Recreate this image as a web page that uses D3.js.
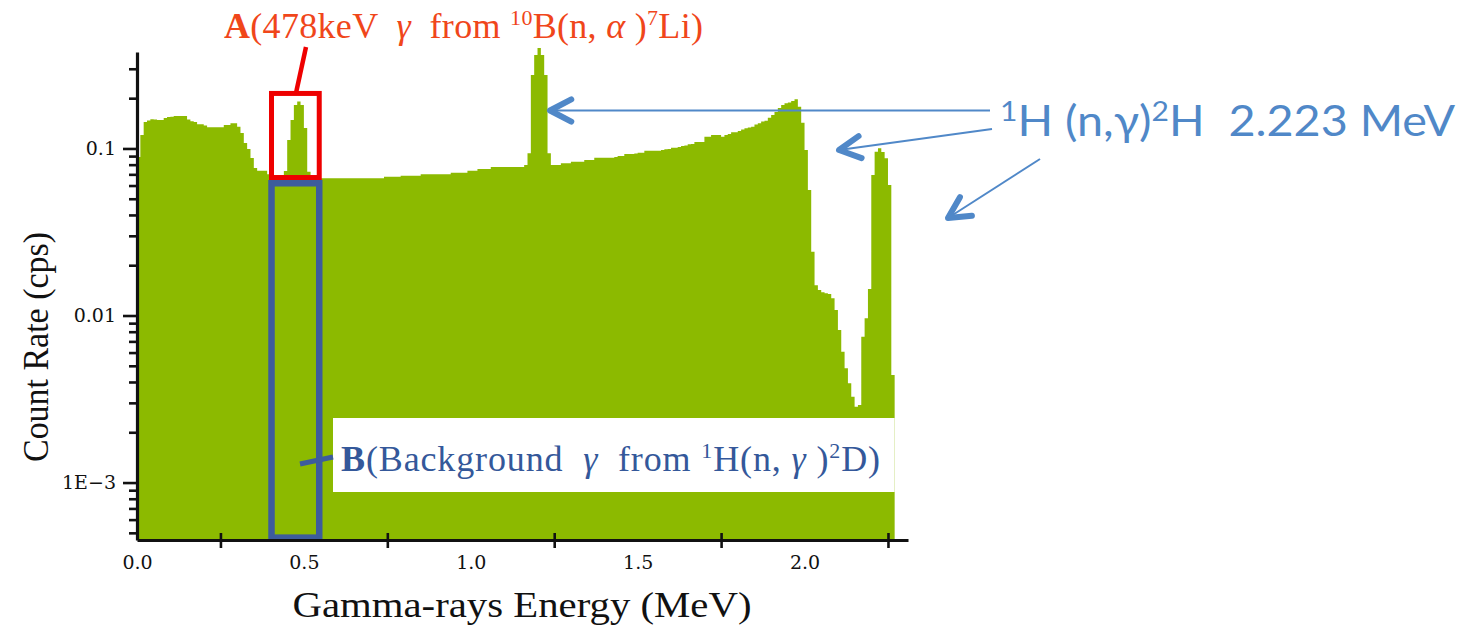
<!DOCTYPE html>
<html>
<head>
<meta charset="utf-8">
<script src="https://cdn.jsdelivr.net/npm/d3@7"></script>
<style>
  html, body { margin: 0; padding: 0; background: #ffffff; }
  svg { display: block; }
  .pre { white-space: pre; }
</style>
</head>
<body>
<svg id="chart" width="1472" height="629"></svg>
<script>
// Gamma-ray spectrum in 10 keV bins, first bin starting at 0 MeV (count rate, cps)
const binWidth = 0.01;

// 0.00 – 0.54 MeV: low-energy continuum and the 478 keV line
const countsLow = [
  0.0889, 0.1204, 0.1441, 0.1471, 0.1496, 0.1492, 0.1482, 0.1482, 0.1523, 0.1544,
  0.1551, 0.1565, 0.1565, 0.1565, 0.1565, 0.1490, 0.1455, 0.1441, 0.1396, 0.1396,
  0.1373, 0.1339, 0.1339, 0.1339, 0.1339, 0.1339, 0.1382, 0.1382, 0.1416, 0.1416,
  0.1350, 0.1239, 0.1079, 0.0993, 0.0877, 0.0764, 0.0736, 0.0736, 0.0736, 0.0701,
  0.0694, 0.0684, 0.0680, 0.0680, 0.0733, 0.1124, 0.1482, 0.1822, 0.1912, 0.1822,
  0.1327, 0.0726, 0.0680, 0.0670, 0.0666
];

// 0.55 – 1.16 MeV: flat continuum
const countsPlateau = [
  0.0663, 0.0663, 0.0663, 0.0663, 0.0663, 0.0663, 0.0663, 0.0663, 0.0663, 0.0663,
  0.0663, 0.0663, 0.0663, 0.0663, 0.0663, 0.0663, 0.0663, 0.0663, 0.0663,
  0.0678, 0.0678, 0.0678, 0.0678, 0.0678,
  0.0687, 0.0687, 0.0687, 0.0687, 0.0687, 0.0687,
  0.0701, 0.0701, 0.0701, 0.0701, 0.0701, 0.0701, 0.0701, 0.0701, 0.0701,
  0.0716, 0.0716, 0.0716, 0.0716, 0.0716,
  0.0736, 0.0736, 0.0736,
  0.0754, 0.0754, 0.0754, 0.0754,
  0.0775, 0.0775, 0.0775, 0.0775, 0.0775, 0.0775, 0.0775, 0.0775, 0.0775, 0.0775,
  0.0796
];

// 1.17 – 1.23 MeV: double-escape peak of the 2.223 MeV line
const countsEscape = [0.0936, 0.2755, 0.3630, 0.3997, 0.3630, 0.2755, 0.0936];

// 1.24 – 1.99 MeV: Compton continuum up to the edge
const countsCompton = [
  0.0796, 0.0796, 0.0796, 0.0815, 0.0815, 0.0815, 0.0834, 0.0834, 0.0834, 0.0834,
  0.0853, 0.0853, 0.0853, 0.0881, 0.0881, 0.0881, 0.0881, 0.0881, 0.0881, 0.0889,
  0.0902, 0.0902, 0.0927, 0.0927, 0.0927, 0.0934, 0.0944, 0.0944, 0.0970, 0.0970,
  0.0970, 0.0970, 0.0970, 0.0979, 0.0989, 0.0993, 0.1011, 0.1011, 0.1021, 0.1035,
  0.1042, 0.1060, 0.1064, 0.1094, 0.1094, 0.1094, 0.1177, 0.1177, 0.1204, 0.1204,
  0.1204, 0.1177, 0.1204, 0.1221, 0.1250, 0.1250, 0.1273, 0.1299, 0.1321, 0.1336,
  0.1350, 0.1392, 0.1416, 0.1451, 0.1467, 0.1529, 0.1587, 0.1654, 0.1748, 0.1822,
  0.1865, 0.1885, 0.1925, 0.1971, 0.1780, 0.1427
];

// 2.00 – 2.26 MeV: edge fall-off, valley and the 2.223 MeV full-energy peak
const countsPeak = [
  0.0979, 0.0564, 0.0241, 0.0152, 0.0142, 0.0138, 0.01358, 0.01345, 0.01268, 0.01079,
  0.00819, 0.00607, 0.00483, 0.00393, 0.00326, 0.00284, 0.00291, 0.00746, 0.00962, 0.0144,
  0.0694, 0.0957, 0.1003, 0.0952, 0.0874, 0.0605, 0.0044
];

// Axis ticks
const energyDomain = [0, 2.31];
const energyTicks = [0.25, 0.75, 1.25, 1.75, 2.25];
const energyLabels = [0, 0.5, 1.0, 1.5, 2.0];
const rateDomain = [4.53e-4, 0.378];
const rateMajor = [0.1, 0.01, 0.001];
const rateMajorText = ["0.1", "0.01", "1E\u22123"];
const rateMinor = [0.3, 0.2,
  0.09, 0.08, 0.07, 0.06, 0.05, 0.04, 0.03, 0.02,
  0.009, 0.008, 0.007, 0.006, 0.005, 0.004, 0.003, 0.002,
  0.0009, 0.0008, 0.0007, 0.0006, 0.0005];

// Energy windows: A = 478 keV line, B = background under it
const windowA = { e0: 0.403, e1: 0.546, r0: 0.067, r1: 0.2135 };
const windowB = { e0: 0.403, e1: 0.546, r0: 4.68e-4, r1: 0.0619 };

const counts = [].concat(countsLow, countsPlateau, countsEscape, countsCompton, countsPeak);
const bins = counts.map((v, i) => ({ e: i * binWidth, v }));
bins.push({ e: counts.length * binWidth, v: counts[counts.length - 1] });

const svg = d3.select("#chart");
const plot = { left: 137, right: 908, top: 52, bottom: 540 };

const x = d3.scaleLinear().domain(energyDomain).range([plot.left, plot.right]);
const y = d3.scaleLog().domain(rateDomain).range([plot.bottom, plot.top]);

const GREEN = "#8cba00";
const serif = "'Liberation Serif', 'Times New Roman', serif";

// Spectrum as a filled step histogram
const area = d3.area()
  .curve(d3.curveStepAfter)
  .x(d => x(d.e))
  .y0(y(rateDomain[0]))
  .y1(d => y(d.v));

svg.append("path")
  .datum(bins)
  .attr("d", area)
  .attr("fill", GREEN);

// Window boxes
svg.append("rect")
  .attr("x", x(windowA.e0)).attr("y", y(windowA.r1))
  .attr("width", x(windowA.e1) - x(windowA.e0))
  .attr("height", y(windowA.r0) - y(windowA.r1))
  .attr("fill", "none").attr("stroke", "#ee0000").attr("stroke-width", 5);

svg.append("rect")
  .attr("x", x(windowB.e0)).attr("y", y(windowB.r1))
  .attr("width", x(windowB.e1) - x(windowB.e0))
  .attr("height", y(windowB.r0) - y(windowB.r1))
  .attr("fill", "none").attr("stroke", "#3d5c9c").attr("stroke-width", 6.5);

// Axes
const axisColor = "#111111";

const yMajor = svg.append("g")
  .attr("transform", `translate(${plot.left},0)`)
  .call(d3.axisLeft(y).tickValues(rateMajor).tickSize(14).tickSizeOuter(0)
    .tickPadding(7).tickFormat((d, i) => rateMajorText[i]));
const yMinor = svg.append("g")
  .attr("transform", `translate(${plot.left},0)`)
  .call(d3.axisLeft(y).tickValues(rateMinor).tickSize(8).tickSizeOuter(0).tickFormat(""));
yMinor.select(".domain").remove();

const xTicks = svg.append("g")
  .attr("transform", `translate(0,${plot.bottom})`)
  .call(d3.axisBottom(x).tickValues(energyTicks).tickSize(14).tickSizeOuter(0).tickFormat(""));
xTicks.selectAll(".tick line").attr("y1", -7).attr("y2", 8);
const xLabels = svg.append("g")
  .attr("transform", `translate(0,${plot.bottom})`)
  .call(d3.axisBottom(x).tickValues(energyLabels).tickSize(0).tickPadding(16)
    .tickFormat(d3.format(".1f")));
xLabels.select(".domain").remove();

[yMajor, yMinor, xTicks].forEach(g => {
  g.selectAll(".domain").attr("stroke", axisColor).attr("stroke-width", 3.2);
  g.selectAll(".tick line").attr("stroke", axisColor).attr("stroke-width", 2.6);
});
[yMajor, xLabels].forEach(g => {
  g.selectAll(".tick text")
    .attr("font-family", "'DejaVu Serif', serif")
    .attr("font-size", 19)
    .attr("fill", "#111111");
});

// Axis titles
svg.append("text")
  .attr("x", 522).attr("y", 617)
  .attr("text-anchor", "middle")
  .attr("font-family", serif).attr("font-size", 36)
  .attr("textLength", 459).attr("lengthAdjust", "spacingAndGlyphs")
  .attr("fill", "#111111")
  .text("Gamma-rays Energy (MeV)");

svg.append("text")
  .attr("transform", "translate(48,347) rotate(-90)")
  .attr("text-anchor", "middle")
  .attr("font-family", serif).attr("font-size", 36)
  .attr("textLength", 230).attr("lengthAdjust", "spacingAndGlyphs")
  .attr("fill", "#111111")
  .text("Count Rate (cps)");

// Label for window B on a white panel
svg.append("rect")
  .attr("x", 333).attr("y", 418)
  .attr("width", x(counts.length * binWidth) - 333).attr("height", 74)
  .attr("fill", "#ffffff");

const BLUE_DARK = "#34589a";
const labelB = svg.append("text")
  .attr("class", "pre")
  .attr("x", 341).attr("y", 471)
  .attr("font-family", serif).attr("font-size", 36)
  .attr("textLength", 539)
  .attr("fill", BLUE_DARK);
labelB.append("tspan").attr("font-weight", "bold").text("B");
labelB.append("tspan").text("(Background  ");
labelB.append("tspan").attr("font-style", "italic").text("\u03b3");
labelB.append("tspan").text("  from ");
labelB.append("tspan").attr("font-size", 22).attr("dy", -13).text("1");
labelB.append("tspan").attr("dy", 13).text("H(n, ");
labelB.append("tspan").attr("font-style", "italic").text("\u03b3");
labelB.append("tspan").text(" )");
labelB.append("tspan").attr("font-size", 22).attr("dy", -13).text("2");
labelB.append("tspan").attr("dy", 13).text("D)");

svg.append("line")
  .attr("x1", 300).attr("y1", 464).attr("x2", 333).attr("y2", 457)
  .attr("stroke", "#3d5c9c").attr("stroke-width", 5);

// Label for window A
const RED_TEXT = "#f0461a";
const labelA = svg.append("text")
  .attr("class", "pre")
  .attr("x", 224).attr("y", 38)
  .attr("font-family", serif).attr("font-size", 36)
  .attr("textLength", 479)
  .attr("fill", RED_TEXT);
labelA.append("tspan").attr("font-weight", "bold").text("A");
labelA.append("tspan").text("(478keV  ");
labelA.append("tspan").attr("font-style", "italic").text("\u03b3");
labelA.append("tspan").text("  from ");
labelA.append("tspan").attr("font-size", 22).attr("dy", -13).text("10");
labelA.append("tspan").attr("dy", 13).text("B(n, ");
labelA.append("tspan").attr("font-style", "italic").text("\u03b1");
labelA.append("tspan").text(" )");
labelA.append("tspan").attr("font-size", 22).attr("dy", -13).text("7");
labelA.append("tspan").attr("dy", 13).text("Li)");

svg.append("line")
  .attr("x1", 296).attr("y1", 93).attr("x2", 306).attr("y2", 47)
  .attr("stroke", "#ee0000").attr("stroke-width", 4.5);

// 2.223 MeV annotation with arrows
const BLUE_LIGHT = "#5088c8";
const note = svg.append("text")
  .attr("class", "pre")
  .attr("x", 1000).attr("y", 136)
  .attr("font-family", "Lato, 'Open Sans', sans-serif").attr("font-size", 42)
  .attr("textLength", 455).attr("lengthAdjust", "spacingAndGlyphs")
  .attr("fill", BLUE_LIGHT);
note.append("tspan").attr("font-size", 27).attr("dy", -15).text("1");
note.append("tspan").attr("dy", 15).text("H (n,\u03b3)");
note.append("tspan").attr("font-size", 27).attr("dy", -15).text("2");
note.append("tspan").attr("dy", 15).text("H  2.223 MeV");

function arrow(x1, y1, x2, y2) {
  const g = svg.append("g").attr("stroke", BLUE_LIGHT).attr("fill", "none");
  g.append("line").attr("x1", x1).attr("y1", y1).attr("x2", x2).attr("y2", y2)
    .attr("stroke-width", 2);
  const ang = Math.atan2(y1 - y2, x1 - x2);
  const len = 24, spread = 0.48;
  const pts = [
    [x2 + len * Math.cos(ang + spread), y2 + len * Math.sin(ang + spread)],
    [x2, y2],
    [x2 + len * Math.cos(ang - spread), y2 + len * Math.sin(ang - spread)]
  ];
  g.append("path").attr("d", d3.line()(pts))
    .attr("stroke-width", 6).attr("stroke-linecap", "round").attr("stroke-linejoin", "round");
}
arrow(990, 110.5, 550, 110.5);
arrow(992, 129, 839, 150);
arrow(1040, 159, 948, 218);
</script>
</body>
</html>
